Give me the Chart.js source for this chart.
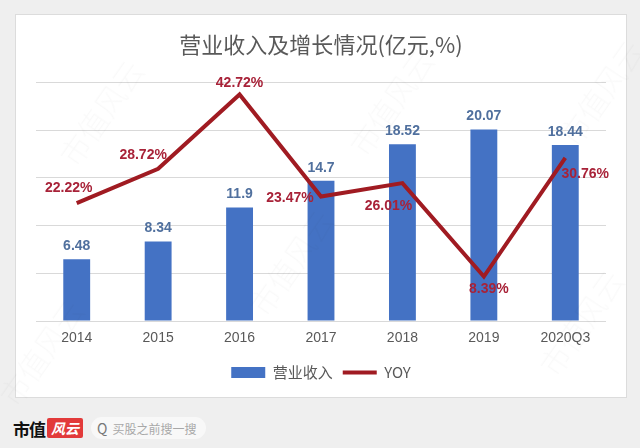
<!DOCTYPE html>
<html>
<head>
<meta charset="utf-8">
<script src="https://cdn.jsdelivr.net/npm/chart.js@4/dist/chart.umd.min.js"></script>
<style>
  html, body { margin: 0; padding: 0; }
  body { width: 640px; height: 448px; background: #efefef; position: relative; overflow: hidden;
         font-family: "Noto Sans CJK SC", "Noto Sans", sans-serif; }
  #card { position: absolute; left: 15px; top: 14px; width: 610px; height: 382px;
          background: #fff; border: 1px solid #dcdcdc; }
  #card canvas { position: absolute; left: 0; top: 0; }
  #footer { position: absolute; left: 13px; top: 417px; height: 22px; display: flex; align-items: center; }
  .brand { font-size: 17px; font-weight: 700; color: #111; letter-spacing: -1px; }
  .logo { margin-left: 2px; background: #e23a3a; color: #fff; font-size: 14px; font-style: italic;
          font-weight: 700; padding: 0 4px; height: 20px; line-height: 20px; border-radius: 2px; }
  .search { margin-left: 8px; background: #f8f8f8; border-radius: 11px; height: 22px; padding: 0 10px 0 6px;
            display: flex; align-items: center; color: #a8a8a8; font-size: 12px; }
  .search b { font-weight: 400; color: #777; font-size: 14px; margin-right: 5px; }
  .wm { position: absolute; color: rgba(0,0,0,0.022); font-size: 30px; font-weight: 300; transform: rotate(-55deg);
        pointer-events: none; white-space: nowrap; }
</style>
</head>
<body>
<div id="card"><canvas id="myChart" width="612" height="384"></canvas></div>
<div id="footer">
  <span class="brand">市值</span><span class="logo">风云</span>
  <span class="search"><b>Q</b>买股之前搜一搜</span>
</div>
<div class="wm" style="left:40px;top:90px">市值风云</div>
<div class="wm" style="left:230px;top:240px">市值风云</div>
<div class="wm" style="left:330px;top:80px">市值风云</div>
<div class="wm" style="left:540px;top:70px">市值风云</div>
<div class="wm" style="left:520px;top:300px">市值风云</div>
<div class="wm" style="left:-20px;top:330px">市值风云</div>
<script>
const years = ['2014', '2015', '2016', '2017', '2018', '2019', '2020Q3'];
const revenue = [6.48, 8.34, 11.9, 14.7, 18.52, 20.07, 18.44];
const yoy = [22.22, 28.72, 42.72, 23.47, 26.01, 8.39, 30.76];
const revenueLabels = ['6.48', '8.34', '11.9', '14.7', '18.52', '20.07', '18.44'];
const yoyLabels = ['22.22%', '28.72%', '42.72%', '23.47%', '26.01%', '8.39%', '30.76%'];

// label offsets for the YOY points, pixels from the point
const yoyOffsets = [[-8, -15], [-15, -14], [0, -11], [-31, 2], [-14, 23], [5, 13], [20, 16]];

const ctx = document.getElementById('myChart');

const valueLabels = {
    id: 'valueLabels',
    afterDatasetsDraw(chart) {
        const c = chart.ctx;
        c.save();
        c.textAlign = 'center';
        c.textBaseline = 'middle';
        c.font = 'bold 14px "Liberation Sans", sans-serif';
        chart.getDatasetMeta(0).data.forEach((bar, i) => {
            c.fillStyle = '#50709e';
            c.fillText(revenueLabels[i], bar.x, bar.y - 13);
        });
        chart.getDatasetMeta(1).data.forEach((pt, i) => {
            c.fillStyle = '#a82238';
            c.fillText(yoyLabels[i], pt.x + yoyOffsets[i][0], pt.y + yoyOffsets[i][1]);
        });
        c.restore();
    }
};

new Chart(ctx, {
    type: 'bar',
    data: {
        labels: years,
        datasets: [{
            label: '营业收入',
            data: revenue,
            backgroundColor: '#4472c4',
            borderWidth: 0,
            barPercentage: 0.66,
            categoryPercentage: 0.5,
            yAxisID: 'y',
            order: 2
        }, {
            type: 'line',
            label: 'YOY',
            data: yoy,
            borderColor: '#a01b22',
            backgroundColor: '#a01b22',
            borderWidth: 4,
            pointRadius: 0,
            tension: 0,
            yAxisID: 'y1',
            order: 1
        }]
    },
    options: {
        responsive: false,
        animation: false,
        layout: { padding: { left: 20, right: 22, top: 0, bottom: 9 } },
        plugins: {
            title: {
                display: true,
                text: '营业收入及增长情况(亿元,%)',
                color: '#595959',
                font: { size: 22, family: '"Noto Sans CJK SC", sans-serif', weight: 'normal' },
                padding: { top: 16, bottom: 25 }
            },
            legend: {
                position: 'bottom',
                labels: {
                    usePointStyle: true,
                    pointStyleWidth: 34,
                    boxHeight: 11,
                    padding: 10,
                    color: '#595959',
                    font: { size: 15, family: '"Noto Sans CJK SC", sans-serif' },
                    generateLabels(chart) {
                        const items = Chart.defaults.plugins.legend.labels.generateLabels(chart);
                        items.sort((a, b) => a.datasetIndex - b.datasetIndex);
                        items.forEach(item => {
                            item.pointStyle = item.datasetIndex === 0 ? 'rect' : 'line';
                        });
                        return items;
                    }
                }
            },
            tooltip: { enabled: false }
        },
        scales: {
            x: {
                grid: { display: false },
                border: { display: false },
                ticks: { color: '#595959', padding: 1, font: { size: 14, family: '"Liberation Sans", sans-serif' } },
                afterFit(scale) { scale.height = 34; }
            },
            y: {
                min: 0,
                max: 25,
                ticks: { display: false, stepSize: 5 },
                grid: { color: '#d9d9d9', drawTicks: false },
                border: { display: false },
                afterFit(scale) { scale.width = 0; }
            },
            y1: {
                display: false,
                position: 'right',
                min: 0,
                max: 45
            }
        }
    },
    plugins: [valueLabels]
});
</script>
</body>
</html>
